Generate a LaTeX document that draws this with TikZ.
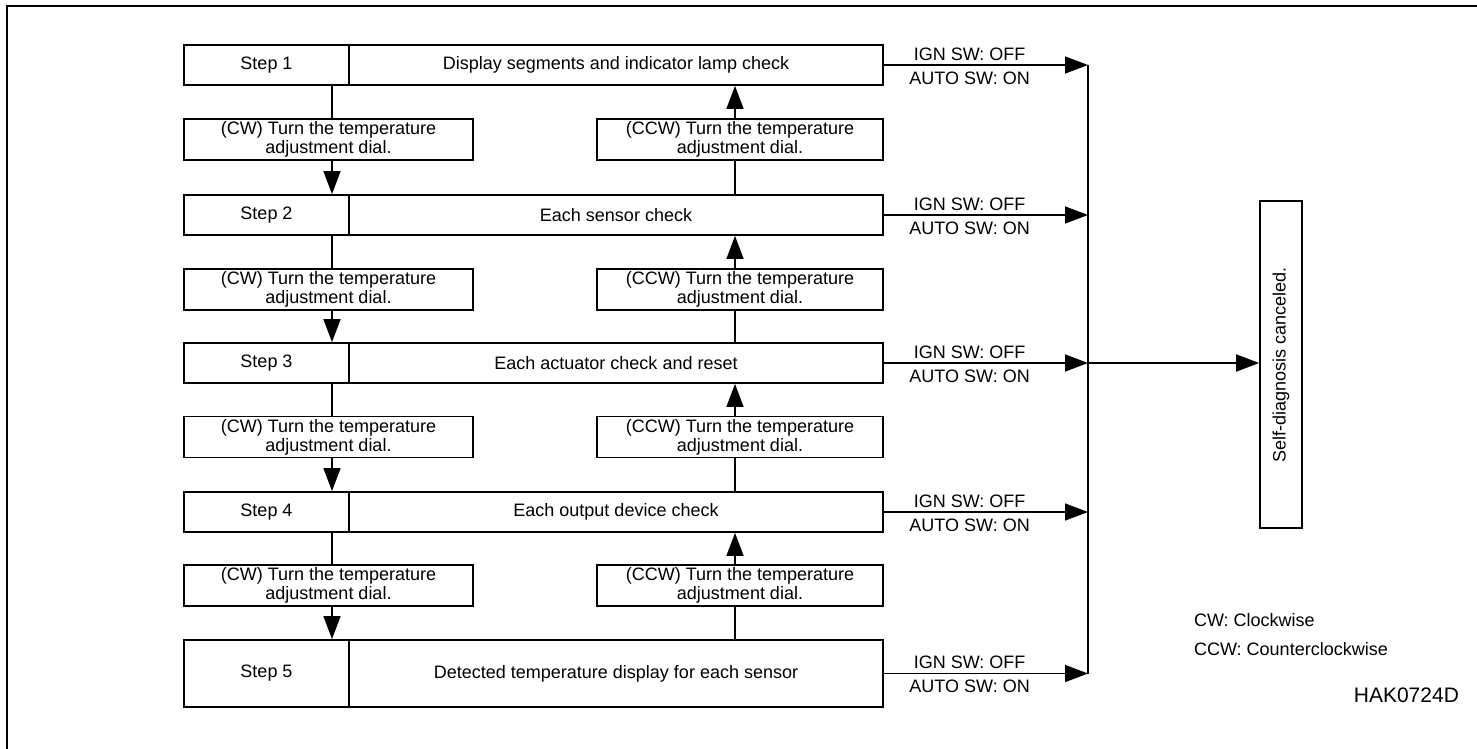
\documentclass[tikz,border=0pt]{standalone}
\usepackage{fontspec}
\setmainfont{Liberation Sans}
\usepackage{graphicx}
\usetikzlibrary{arrows.meta,calc}
\tikzset{>={Triangle[length=11.5pt,width=8.5pt]}}
\newcommand{\cellfont}{\fontsize{9}{10}\selectfont}
\newcommand{\dialfont}{\fontsize{9}{9.5}\selectfont}
\tikzset{
  stepcell/.style={draw, line width=0.9pt, minimum height=20pt, inner sep=0pt, font=\cellfont},
  steplbl/.style={stepcell, minimum width=82.5pt},
  stepdesc/.style={stepcell, minimum width=267pt},
  dialbox/.style={draw, line width=0.9pt, minimum height=20.5pt, inner sep=0pt, align=center, font=\dialfont},
  cwbox/.style={dialbox, minimum width=144.5pt},
  ccwbox/.style={dialbox, minimum width=143pt},
  flow/.style={line width=0.75pt},
  swtop/.style={above, inner sep=2pt, font=\cellfont},
  swbot/.style={below, inner sep=3pt, font=\cellfont},
}

\begin{document}
\begin{tikzpicture}[x=0.5pt,y=-0.5pt]
  \useasboundingbox (0,0) rectangle (1477,749);
  %% frame
  \draw[line width=1pt] (7,749) -- (7,6) -- (1477,6);

  %% Step 1
  \node[steplbl] (st1) at (266.5,65) {Step 1};
  \node[stepdesc] (sd1) at (616,65) {Display segments and indicator lamp check};

  %% Step 2
  \node[steplbl] (st2) at (266.5,215) {Step 2};
  \node[stepdesc] (sd2) at (616,215) {Each sensor check};

  %% Step 3
  \node[steplbl] (st3) at (266.5,363) {Step 3};
  \node[stepdesc] (sd3) at (616,363) {Each actuator check and reset};

  %% Step 4
  \node[steplbl] (st4) at (266.5,512) {Step 4};
  \node[stepdesc] (sd4) at (616,512) {Each output device check};

  %% Step 5
  \node[steplbl, minimum height=33.5pt] (st5) at (266.5,673.5) {Step 5};
  \node[stepdesc, minimum height=33.5pt] (sd5) at (616,673.5) {Detected temperature display for each sensor};

  %% dial boxes
  \node[cwbox]  (cw1)  at (328.5,139.5) {(CW) Turn the temperature\\adjustment dial.};
  \node[ccwbox] (ccw1) at (740,139.5)   {(CCW) Turn the temperature\\adjustment dial.};
  \node[cwbox]  (cw2)  at (328.5,289.5) {(CW) Turn the temperature\\adjustment dial.};
  \node[ccwbox] (ccw2) at (740,289.5)   {(CCW) Turn the temperature\\adjustment dial.};
  \node[cwbox]  (cw3)  at (328.5,437)   {(CW) Turn the temperature\\adjustment dial.};
  \node[ccwbox] (ccw3) at (740,437)     {(CCW) Turn the temperature\\adjustment dial.};
  \node[cwbox]  (cw4)  at (328.5,585.5) {(CW) Turn the temperature\\adjustment dial.};
  \node[ccwbox] (ccw4) at (740,585.5)   {(CCW) Turn the temperature\\adjustment dial.};

  %% CW path (down)
  \coordinate (cwx) at ([xshift=1.75pt]cw1.center);
  \draw[flow]    (cwx |- st1.south) -- (cwx |- cw1.north);
  \draw[flow,->] (cwx |- cw1.south) -- (cwx |- st2.north);
  \draw[flow]    (cwx |- st2.south) -- (cwx |- cw2.north);
  \draw[flow,->] (cwx |- cw2.south) -- (cwx |- st3.north);
  \draw[flow]    (cwx |- st3.south) -- (cwx |- cw3.north);
  \draw[flow,->] (cwx |- cw3.south) -- (cwx |- st4.north);
  \draw[flow]    (cwx |- st4.south) -- (cwx |- cw4.north);
  \draw[flow,->] (cwx |- cw4.south) -- (cwx |- st5.north);

  %% CCW path (up)
  \coordinate (ccwx) at ([xshift=-2.5pt]ccw1.center);
  \draw[flow,->] (ccwx |- ccw1.north) -- (ccwx |- sd1.south);
  \draw[flow]    (ccwx |- sd2.north) -- (ccwx |- ccw1.south);
  \draw[flow,->] (ccwx |- ccw2.north) -- (ccwx |- sd2.south);
  \draw[flow]    (ccwx |- sd3.north) -- (ccwx |- ccw2.south);
  \draw[flow,->] (ccwx |- ccw3.north) -- (ccwx |- sd3.south);
  \draw[flow]    (ccwx |- sd4.north) -- (ccwx |- ccw3.south);
  \draw[flow,->] (ccwx |- ccw4.north) -- (ccwx |- sd4.south);
  \draw[flow]    (ccwx |- sd5.north) -- (ccwx |- ccw4.south);

  %% exits to cancel
  \coordinate (bus) at (1088,0);
  \draw[flow,->] (sd1.east) -- node[swtop,pos=0.42] {IGN SW: OFF} node[swbot,pos=0.42] {AUTO SW: ON} (sd1.east -| bus);
  \draw[flow,->] (sd2.east) -- node[swtop,pos=0.42] {IGN SW: OFF} node[swbot,pos=0.42] {AUTO SW: ON} (sd2.east -| bus);
  \draw[flow,->] (sd3.east) -- node[swtop,pos=0.42] {IGN SW: OFF} node[swbot,pos=0.42] {AUTO SW: ON} (sd3.east -| bus);
  \draw[flow,->] (sd4.east) -- node[swtop,pos=0.42] {IGN SW: OFF} node[swbot,pos=0.42] {AUTO SW: ON} (sd4.east -| bus);
  \draw[flow,->] (sd5.east) -- node[swtop,pos=0.42] {IGN SW: OFF} node[swbot,pos=0.42] {AUTO SW: ON} (sd5.east -| bus);
  \draw[flow] (sd1.east -| bus) -- (sd5.east -| bus);

  \node[draw, line width=0.9pt, minimum width=21pt, minimum height=163.5pt, inner sep=0pt, font=\cellfont] (cancel) at (1281,364.5) {\rotatebox{90}{Self-diagnosis canceled.}};
  \draw[line width=1pt,->] (sd3.east -| bus) -- (cancel.west |- sd3.east);

  %% legend
  \node[anchor=west, font=\cellfont] (cwkey)  at (1187,620) {CW: Clockwise};
  \node[anchor=west, font=\cellfont] (ccwkey) at (1187,649) {CCW: Counterclockwise};
  \node[anchor=east, font=\fontsize{10.5}{12}\selectfont] (figid) at (1466,695) {HAK0724D};
\end{tikzpicture}
\end{document}
